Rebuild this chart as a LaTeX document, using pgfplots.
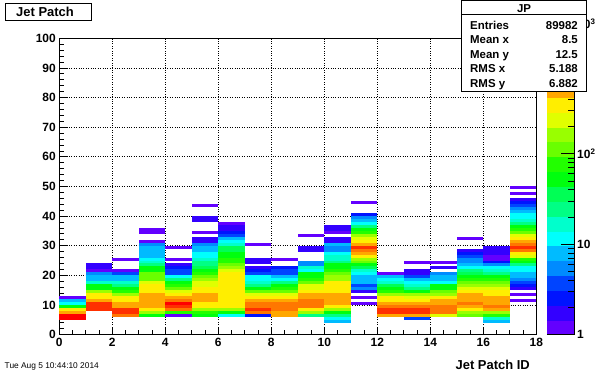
\documentclass[border=0pt]{standalone}
\usepackage{fontspec}
\setmainfont{Liberation Sans}
\usepackage{pgfplots}
\usepackage{pgfplotstable}
\pgfplotsset{compat=1.18}

\pgfplotsset{colormap={rootpal}{
rgb255=(99,0,255) rgb255=(51,0,255) rgb255=(0,20,255) rgb255=(0,68,255)
rgb255=(0,139,255) rgb255=(0,187,255) rgb255=(0,255,252) rgb255=(0,255,204)
rgb255=(0,255,133) rgb255=(0,255,85) rgb255=(0,255,14) rgb255=(34,255,0)
rgb255=(105,255,0) rgb255=(153,255,0) rgb255=(224,255,0) rgb255=(255,238,0)
rgb255=(255,167,0) rgb255=(255,119,0) rgb255=(255,48,0) rgb255=(255,0,0)}}

\pgfdeclareplotmark{cell}{%
  \pgfpathrectangle{\pgfpoint{-13.3bp}{-1.5bp}}{\pgfpoint{26.6bp}{3.0bp}}%
  \pgfusepathqfill}

% x = bin centre (Jet Patch ID), y = bin centre, c = entries
\pgfplotstableread[row sep=\\]{
x y c\\
0.5 12.5 1\\ 0.5 11.5 8\\ 0.5 10.5 12\\ 0.5 9.5 53\\ 0.5 8.5 348\\ 0.5 7.5 507\\ 0.5 6.5 1574\\ 0.5 5.5 1574\\
1.5 23.5 2\\ 1.5 22.5 2\\ 1.5 21.5 1\\ 1.5 20.5 5\\ 1.5 19.5 8\\ 1.5 18.5 8\\ 1.5 17.5 17\\ 1.5 16.5 53\\ 1.5 15.5 53\\ 1.5 14.5 163\\ 1.5 13.5 348\\ 1.5 12.5 348\\ 1.5 11.5 507\\ 1.5 10.5 1079\\ 1.5 9.5 1079\\ 1.5 8.5 1079\\
2.5 25.5 1\\ 2.5 21.5 1\\ 2.5 20.5 4\\ 2.5 19.5 8\\ 2.5 18.5 8\\ 2.5 17.5 17\\ 2.5 16.5 25\\ 2.5 15.5 53\\ 2.5 14.5 77\\ 2.5 13.5 163\\ 2.5 12.5 348\\ 2.5 11.5 348\\ 2.5 10.5 507\\ 2.5 9.5 507\\ 2.5 8.5 1079\\ 2.5 7.5 1079\\ 2.5 6.5 739\\
3.5 35.5 1\\ 3.5 34.5 1\\ 3.5 31.5 1\\ 3.5 30.5 5\\ 3.5 29.5 8\\ 3.5 28.5 8\\ 3.5 27.5 8\\ 3.5 26.5 8\\ 3.5 25.5 12\\ 3.5 24.5 17\\ 3.5 23.5 25\\ 3.5 22.5 53\\ 3.5 21.5 53\\ 3.5 20.5 112\\ 3.5 19.5 112\\ 3.5 18.5 112\\ 3.5 17.5 238\\ 3.5 16.5 348\\ 3.5 15.5 348\\ 3.5 14.5 348\\ 3.5 13.5 507\\ 3.5 12.5 507\\ 3.5 11.5 507\\ 3.5 10.5 507\\ 3.5 9.5 507\\ 3.5 8.5 348\\ 3.5 7.5 163\\ 3.5 6.5 53\\
4.5 29.5 1\\ 4.5 25.5 1\\ 4.5 23.5 2\\ 4.5 22.5 3\\ 4.5 21.5 4\\ 4.5 20.5 4\\ 4.5 19.5 12\\ 4.5 18.5 25\\ 4.5 17.5 53\\ 4.5 16.5 77\\ 4.5 15.5 112\\ 4.5 14.5 238\\ 4.5 13.5 348\\ 4.5 12.5 507\\ 4.5 11.5 739\\ 4.5 10.5 1574\\ 4.5 9.5 1079\\ 4.5 8.5 739\\ 4.5 7.5 77\\ 4.5 6.5 1\\
5.5 43.5 1\\ 5.5 39.5 2\\ 5.5 38.5 2\\ 5.5 34.5 1\\ 5.5 32.5 2\\ 5.5 31.5 2\\ 5.5 30.5 5\\ 5.5 29.5 8\\ 5.5 28.5 8\\ 5.5 27.5 12\\ 5.5 26.5 12\\ 5.5 25.5 17\\ 5.5 24.5 25\\ 5.5 23.5 25\\ 5.5 22.5 36\\ 5.5 21.5 53\\ 5.5 20.5 77\\ 5.5 19.5 112\\ 5.5 18.5 163\\ 5.5 17.5 238\\ 5.5 16.5 238\\ 5.5 15.5 348\\ 5.5 14.5 348\\ 5.5 13.5 507\\ 5.5 12.5 507\\ 5.5 11.5 507\\ 5.5 10.5 348\\ 5.5 9.5 348\\ 5.5 8.5 163\\ 5.5 7.5 77\\ 5.5 6.5 53\\
6.5 37.5 1\\ 6.5 36.5 2\\ 6.5 35.5 2\\ 6.5 34.5 3\\ 6.5 33.5 4\\ 6.5 32.5 8\\ 6.5 31.5 12\\ 6.5 30.5 17\\ 6.5 29.5 36\\ 6.5 28.5 36\\ 6.5 27.5 53\\ 6.5 26.5 53\\ 6.5 25.5 77\\ 6.5 24.5 77\\ 6.5 23.5 112\\ 6.5 22.5 163\\ 6.5 21.5 238\\ 6.5 20.5 348\\ 6.5 19.5 348\\ 6.5 18.5 348\\ 6.5 17.5 348\\ 6.5 16.5 348\\ 6.5 15.5 348\\ 6.5 14.5 348\\ 6.5 13.5 348\\ 6.5 12.5 348\\ 6.5 11.5 348\\ 6.5 10.5 348\\ 6.5 9.5 348\\ 6.5 8.5 163\\ 6.5 7.5 53\\ 6.5 6.5 12\\
7.5 30.5 1\\ 7.5 25.5 2\\ 7.5 24.5 2\\ 7.5 22.5 2\\ 7.5 21.5 3\\ 7.5 20.5 4\\ 7.5 19.5 12\\ 7.5 18.5 12\\ 7.5 17.5 17\\ 7.5 16.5 25\\ 7.5 15.5 53\\ 7.5 14.5 112\\ 7.5 13.5 238\\ 7.5 12.5 348\\ 7.5 11.5 507\\ 7.5 10.5 739\\ 7.5 9.5 739\\ 7.5 8.5 1079\\ 7.5 7.5 739\\ 7.5 6.5 3\\
8.5 25.5 1\\ 8.5 22.5 3\\ 8.5 21.5 4\\ 8.5 20.5 4\\ 8.5 19.5 8\\ 8.5 18.5 12\\ 8.5 17.5 25\\ 8.5 16.5 53\\ 8.5 15.5 77\\ 8.5 14.5 112\\ 8.5 13.5 238\\ 8.5 12.5 348\\ 8.5 11.5 507\\ 8.5 10.5 739\\ 8.5 9.5 739\\ 8.5 8.5 739\\ 8.5 7.5 507\\ 8.5 6.5 507\\
9.5 33.5 1\\ 9.5 29.5 2\\ 9.5 28.5 2\\ 9.5 24.5 5\\ 9.5 23.5 5\\ 9.5 22.5 17\\ 9.5 21.5 12\\ 9.5 20.5 53\\ 9.5 19.5 53\\ 9.5 18.5 77\\ 9.5 17.5 112\\ 9.5 16.5 238\\ 9.5 15.5 238\\ 9.5 14.5 348\\ 9.5 13.5 507\\ 9.5 12.5 507\\ 9.5 11.5 739\\ 9.5 10.5 739\\ 9.5 9.5 739\\ 9.5 8.5 348\\ 9.5 7.5 163\\ 9.5 6.5 25\\
10.5 36.5 2\\ 10.5 35.5 2\\ 10.5 34.5 1\\ 10.5 32.5 2\\ 10.5 31.5 2\\ 10.5 30.5 8\\ 10.5 29.5 5\\ 10.5 28.5 5\\ 10.5 27.5 12\\ 10.5 26.5 17\\ 10.5 25.5 17\\ 10.5 24.5 25\\ 10.5 23.5 53\\ 10.5 22.5 53\\ 10.5 21.5 77\\ 10.5 20.5 112\\ 10.5 19.5 163\\ 10.5 18.5 163\\ 10.5 17.5 348\\ 10.5 16.5 348\\ 10.5 15.5 348\\ 10.5 14.5 348\\ 10.5 13.5 507\\ 10.5 12.5 507\\ 10.5 11.5 507\\ 10.5 10.5 507\\ 10.5 9.5 348\\ 10.5 8.5 163\\ 10.5 7.5 53\\ 10.5 6.5 25\\ 10.5 5.5 12\\ 10.5 4.5 8\\
11.5 44.5 1\\ 11.5 40.5 3\\ 11.5 39.5 5\\ 11.5 38.5 8\\ 11.5 37.5 12\\ 11.5 36.5 25\\ 11.5 35.5 53\\ 11.5 34.5 77\\ 11.5 33.5 163\\ 11.5 32.5 238\\ 11.5 31.5 348\\ 11.5 30.5 507\\ 11.5 29.5 1079\\ 11.5 28.5 739\\ 11.5 27.5 507\\ 11.5 26.5 348\\ 11.5 25.5 163\\ 11.5 24.5 112\\ 11.5 23.5 53\\ 11.5 22.5 36\\ 11.5 21.5 17\\ 11.5 20.5 12\\ 11.5 19.5 8\\ 11.5 18.5 8\\ 11.5 17.5 8\\ 11.5 16.5 4\\ 11.5 15.5 5\\ 11.5 14.5 2\\ 11.5 12.5 1\\ 11.5 10.5 1\\
12.5 20.5 1\\ 12.5 19.5 8\\ 12.5 18.5 12\\ 12.5 17.5 17\\ 12.5 16.5 36\\ 12.5 15.5 53\\ 12.5 14.5 77\\ 12.5 13.5 163\\ 12.5 12.5 348\\ 12.5 11.5 348\\ 12.5 10.5 507\\ 12.5 9.5 739\\ 12.5 8.5 1079\\ 12.5 7.5 1079\\ 12.5 6.5 507\\
13.5 24.5 1\\ 13.5 21.5 2\\ 13.5 20.5 2\\ 13.5 19.5 4\\ 13.5 18.5 8\\ 13.5 17.5 12\\ 13.5 16.5 17\\ 13.5 15.5 25\\ 13.5 14.5 53\\ 13.5 13.5 163\\ 13.5 12.5 238\\ 13.5 11.5 348\\ 13.5 10.5 507\\ 13.5 9.5 739\\ 13.5 8.5 1079\\ 13.5 7.5 1079\\ 13.5 6.5 507\\ 13.5 5.5 4\\
14.5 24.5 1\\ 14.5 22.5 2\\ 14.5 20.5 5\\ 14.5 19.5 8\\ 14.5 18.5 8\\ 14.5 17.5 12\\ 14.5 16.5 53\\ 14.5 15.5 53\\ 14.5 14.5 112\\ 14.5 13.5 163\\ 14.5 12.5 348\\ 14.5 11.5 507\\ 14.5 10.5 507\\ 14.5 9.5 739\\ 14.5 8.5 739\\ 14.5 7.5 739\\ 14.5 6.5 238\\
15.5 32.5 1\\ 15.5 28.5 2\\ 15.5 27.5 3\\ 15.5 26.5 4\\ 15.5 25.5 5\\ 15.5 24.5 5\\ 15.5 23.5 8\\ 15.5 22.5 12\\ 15.5 21.5 25\\ 15.5 20.5 36\\ 15.5 19.5 53\\ 15.5 18.5 77\\ 15.5 17.5 112\\ 15.5 16.5 163\\ 15.5 15.5 238\\ 15.5 14.5 348\\ 15.5 13.5 507\\ 15.5 12.5 507\\ 15.5 11.5 507\\ 15.5 10.5 739\\ 15.5 9.5 507\\ 15.5 8.5 348\\ 15.5 7.5 163\\ 15.5 6.5 112\\
16.5 29.5 2\\ 16.5 28.5 2\\ 16.5 27.5 2\\ 16.5 26.5 1\\ 16.5 25.5 1\\ 16.5 24.5 3\\ 16.5 23.5 5\\ 16.5 22.5 12\\ 16.5 21.5 17\\ 16.5 20.5 25\\ 16.5 19.5 53\\ 16.5 18.5 77\\ 16.5 17.5 112\\ 16.5 16.5 163\\ 16.5 15.5 238\\ 16.5 14.5 348\\ 16.5 13.5 348\\ 16.5 12.5 507\\ 16.5 11.5 507\\ 16.5 10.5 507\\ 16.5 9.5 739\\ 16.5 8.5 507\\ 16.5 7.5 163\\ 16.5 6.5 77\\ 16.5 5.5 17\\ 16.5 4.5 8\\
17.5 49.5 1\\ 17.5 47.5 1\\ 17.5 45.5 2\\ 17.5 44.5 3\\ 17.5 43.5 4\\ 17.5 42.5 5\\ 17.5 41.5 8\\ 17.5 40.5 12\\ 17.5 39.5 12\\ 17.5 38.5 17\\ 17.5 37.5 25\\ 17.5 36.5 53\\ 17.5 35.5 77\\ 17.5 34.5 112\\ 17.5 33.5 238\\ 17.5 32.5 348\\ 17.5 31.5 507\\ 17.5 30.5 739\\ 17.5 29.5 1079\\ 17.5 28.5 739\\ 17.5 27.5 348\\ 17.5 26.5 238\\ 17.5 25.5 77\\ 17.5 24.5 53\\ 17.5 23.5 25\\ 17.5 22.5 12\\ 17.5 21.5 12\\ 17.5 20.5 8\\ 17.5 19.5 8\\ 17.5 18.5 5\\ 17.5 17.5 4\\ 17.5 16.5 3\\ 17.5 15.5 2\\ 17.5 13.5 1\\ 17.5 11.5 1\\
}\jp

\begin{document}
\begin{tikzpicture}
\useasboundingbox (0,0) rectangle (596bp,372bp);
\begin{axis}[
  at={(59.3bp,37.4bp)}, anchor=south west,
  scale only axis, width=477bp, height=296.2bp,
  xmin=0, xmax=18, ymin=0, ymax=100,
  xtick={0,2,...,18}, ytick={0,10,...,100},
  minor x tick num=3, minor y tick num=4,
  tick pos=left, tick align=inside,
  major tick length=8bp, minor tick length=4.5bp,
  tick style={black, line width=0.9bp},
  axis line style={black, line width=1bp},
  grid=major,
  grid style={black, line width=0.8bp, dash pattern=on 0.8bp off 1.6bp},
  axis on top,
  /pgf/number format/assume math mode=true,
  tick label style={font=\fontsize{12}{12}\selectfont\bfseries},
  colormap name=rootpal,
  colormap access=piecewise constant,
  point meta min=0, point meta max=3.2784,
  colorbar,
  colorbar/width=27.7bp,
  colorbar style={
    at={(parent axis.north east)}, anchor=north west, xshift=2bp,
    scale only axis, width=27.7bp,
    ymin=0, ymax=3.2784,
    axis y line*=right, axis x line*=none,
    ytick={0,1,2,3},
    yticklabels={1,10,10\textsuperscript{2},{}},
    minor ytick={0.30103,0.47712,0.60206,0.69897,0.77815,0.84510,0.90309,0.95424,
      1.30103,1.47712,1.60206,1.69897,1.77815,1.84510,1.90309,1.95424,
      2.30103,2.47712,2.60206,2.69897,2.77815,2.84510,2.90309,2.95424},
    ytick pos=right, yticklabel pos=right,
    tick align=inside,
    major tick length=14bp, minor tick length=7bp,
    tick style={black, line width=0.9bp},
    axis line style={black, line width=1bp},
    yticklabel style={font=\fontsize{12}{12}\selectfont\bfseries, inner xsep=2.5bp},
  },
]
\addplot[scatter, only marks, mark=cell,
  scatter/use mapped color={draw=mapped color, fill=mapped color},
  point meta={log10(\thisrow{c})}]
  table[x=x, y=y] {\jp};
\end{axis}

% partially hidden palette label
\node[anchor=west, inner sep=0, font=\fontsize{12}{12}\selectfont\bfseries] at (577bp,348bp) {10\textsuperscript{3}};

% title box
\draw[line width=1bp, fill=white] (5bp,351.3bp) rectangle (91.7bp,368.7bp);
\node[anchor=base west, inner sep=0, font=\fontsize{13}{13}\selectfont\bfseries] at (16bp,355.3bp) {Jet Patch};

% stats box
\draw[line width=1bp, fill=white] (461.7bp,280.3bp) rectangle (586bp,371bp);
\draw[line width=1bp] (461.7bp,357bp) -- (586bp,357bp);
\begin{scope}[every node/.style={inner sep=0, font=\fontsize{11.5}{11.5}\selectfont\bfseries}]
\node[anchor=base] at (524bp,359.6bp) {JP};
\node[anchor=base west] at (470bp,342.7bp) {Entries};
\node[anchor=base east] at (578bp,342.7bp) {89982};
\node[anchor=base west] at (470bp,328.2bp) {Mean x};
\node[anchor=base east] at (578bp,328.2bp) {8.5};
\node[anchor=base west] at (470bp,313.7bp) {Mean y};
\node[anchor=base east] at (578bp,313.7bp) {12.5};
\node[anchor=base west] at (470bp,299.2bp) {RMS x};
\node[anchor=base east] at (578bp,299.2bp) {5.188};
\node[anchor=base west] at (470bp,284.7bp) {RMS y};
\node[anchor=base east] at (578bp,284.7bp) {6.882};
\end{scope}

% axis title and date
\node[anchor=base east, inner sep=0, font=\fontsize{13}{13}\selectfont\bfseries] at (530bp,3bp) {Jet Patch ID};
\node[anchor=base west, inner sep=0, font=\fontsize{8.4}{8.4}\selectfont] at (4.5bp,4bp) {Tue Aug 5 10:44:10 2014};
\end{tikzpicture}
\end{document}
